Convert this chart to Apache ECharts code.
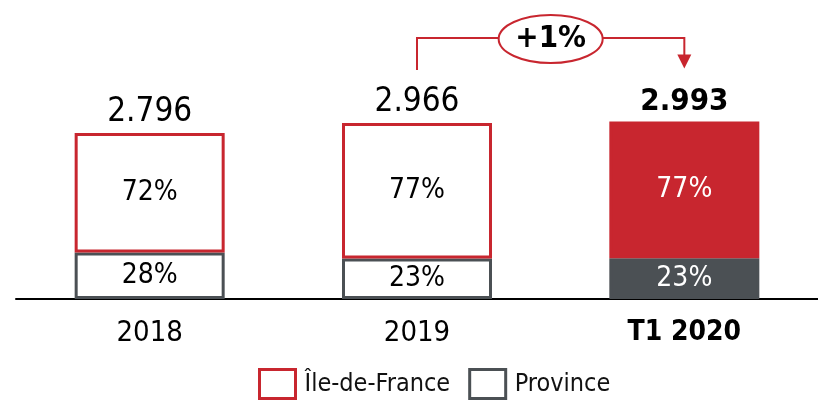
<!DOCTYPE html>
<html>
<head>
<meta charset="utf-8">
<script src="https://cdn.jsdelivr.net/npm/echarts@6/dist/echarts.min.js"></script>
<style>
  html, body { margin: 0; padding: 0; background: #fff; }
  #main { width: 818px; height: 400px; }
</style>
</head>
<body>
<div id="main"></div>
<script>
var years = ["2018", "2019", "T1 2020"];
var totals = [2.796, 2.966, 2.993];
var idfShare = [72, 77, 77];
var provShare = [28, 23, 23];
var growthLabel = "+1%";

var RED = "#c8262f";
var GREY = "#4b5054";
var FONT = "DejaVu Sans Condensed";

var chartDom = document.getElementById("main");
var myChart = echarts.init(chartDom, null, { renderer: "canvas" });

// last bar is filled, others are outlines
function segData(share, color) {
  return totals.map(function (t, i) {
    var v = t * share[i] / 100;
    if (i === totals.length - 1) {
      return {
        value: v,
        itemStyle: { color: color, borderColor: color },
        label: { color: "#fff" }
      };
    }
    return v;
  });
}

var option = {
  backgroundColor: "#fff",
  animation: false,
  grid: { left: 16, width: 807, top: 32, bottom: 101 },
  legend: {
    data: [
      { name: "Île-de-France", itemStyle: { color: "#fff", borderColor: RED, borderWidth: 3 } },
      { name: "Province", itemStyle: { color: "#fff", borderColor: GREY, borderWidth: 3 } }
    ],
    left: 258,
    top: 368,
    padding: 0,
    icon: "rect",
    itemWidth: 36,
    itemHeight: 29,
    itemGap: 18,
    textStyle: { fontFamily: FONT, fontSize: 25, color: "#111", padding: [0, 0, 0, 4] }
  },
  xAxis: {
    type: "category",
    data: years,
    axisLine: { lineStyle: { color: "#000", width: 2 } },
    axisTick: { show: false },
    axisLabel: {
      margin: 20,
      fontFamily: FONT,
      fontSize: 29,
      color: "#000",
      formatter: function (v, i) {
        return i === years.length - 1 ? "{b|" + v + "}" : v;
      },
      rich: { b: { fontFamily: FONT, fontSize: 28, fontWeight: "bold", color: "#000" } }
    }
  },
  yAxis: {
    type: "value",
    min: 0,
    max: 4.5,
    show: false,
    splitLine: { show: false }
  },
  series: [
    {
      name: "Province",
      type: "bar",
      stack: "total",
      barWidth: 150,
      itemStyle: { color: "#fff", borderColor: GREY, borderWidth: 3 },
      label: {
        show: true,
        position: "inside",
        fontFamily: FONT,
        fontSize: 28,
        color: "#000",
        formatter: function (p) { return provShare[p.dataIndex] + "%"; }
      },
      data: segData(provShare, GREY)
    },
    {
      name: "Île-de-France",
      type: "bar",
      stack: "total",
      barWidth: 150,
      itemStyle: { color: "#fff", borderColor: RED, borderWidth: 3 },
      label: {
        show: true,
        position: "inside",
        fontFamily: FONT,
        fontSize: 28,
        color: "#000",
        formatter: function (p) { return idfShare[p.dataIndex] + "%"; }
      },
      data: segData(idfShare, RED)
    },
    {
      name: "total",
      type: "scatter",
      symbolSize: 0,
      silent: true,
      itemStyle: { opacity: 1 },
      label: {
        show: true,
        position: "top",
        distance: 4,
        fontFamily: FONT,
        fontSize: 33,
        color: "#000",
        formatter: function (p) { return totals[p.dataIndex].toFixed(3); }
      },
      data: totals.map(function (t, i) {
        if (i === totals.length - 1) {
          return { value: t, label: { fontWeight: "bold", fontSize: 31, color: "#000" } };
        }
        return t;
      })
    }
  ]
};

myChart.setOption(option);

// growth annotation between the last two bars
var pA = myChart.convertToPixel({ gridIndex: 0 }, [years[1], totals[1]]);
var pB = myChart.convertToPixel({ gridIndex: 0 }, [years[2], totals[2]]);
var lineY = 38;
var cx = (pA[0] + pB[0]) / 2;
var rx = 52, ry = 24;
var lineStyle = { stroke: RED, lineWidth: 2, fill: null };

myChart.setOption({
  graphic: [
    { type: "polyline", shape: { points: [[pA[0], pA[1] - 53], [pA[0], lineY], [cx - rx, lineY]] }, style: lineStyle },
    { type: "polyline", shape: { points: [[cx + rx, lineY], [pB[0], lineY], [pB[0], pB[1] - 66]] }, style: lineStyle },
    { type: "polygon", shape: { points: [[pB[0] - 7, pB[1] - 67], [pB[0] + 7, pB[1] - 67], [pB[0], pB[1] - 53]] }, style: { fill: RED } },
    { type: "ellipse", shape: { cx: cx, cy: lineY + 1, rx: rx, ry: ry }, style: { fill: "#fff", stroke: RED, lineWidth: 2 } },
    {
      type: "text",
      x: cx, y: lineY + 1,
      style: { text: growthLabel, align: "center", verticalAlign: "middle", font: "bold 31px '" + FONT + "'", fill: "#000" }
    }
  ]
});
</script>
</body>
</html>
